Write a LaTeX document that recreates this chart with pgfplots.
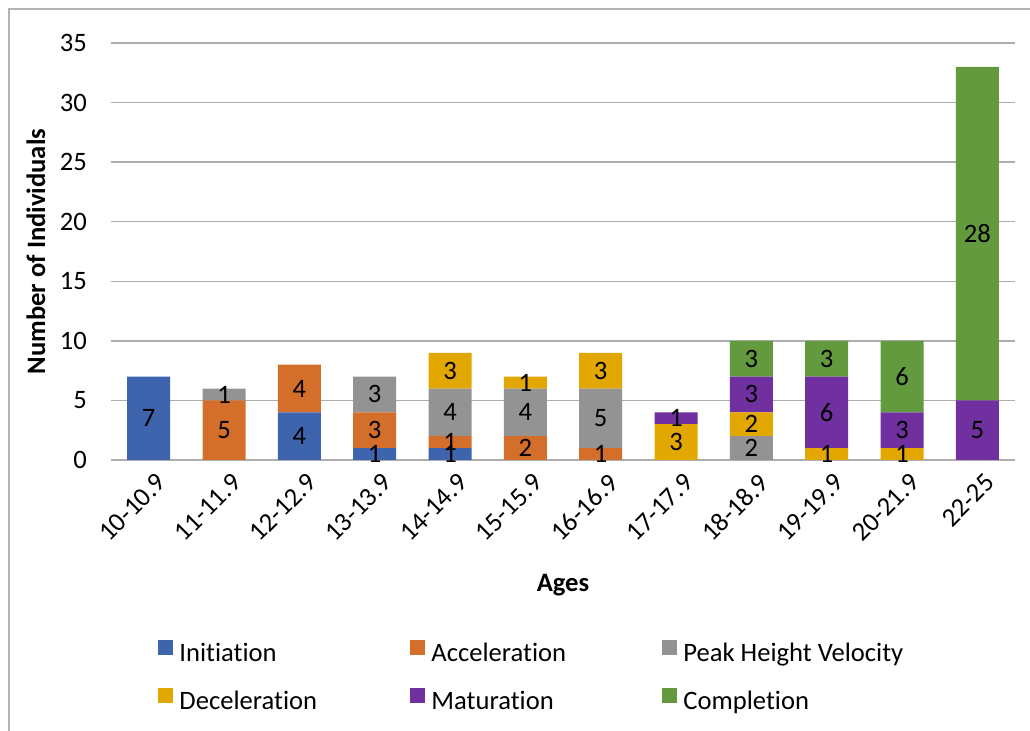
\documentclass[border=0pt]{standalone}
\usepackage{fontspec}
\setmainfont{Carlito}[Ligatures={TeX,NoCommon}]
\usepackage{pgfplots}
\pgfplotsset{compat=1.18}
\usepackage{pgfplotstable}

\definecolor{cInit}{HTML}{3E64AD}
\definecolor{cAcc}{HTML}{D46E2B}
\definecolor{cPHV}{HTML}{939393}
\definecolor{cDec}{HTML}{E2A700}
\definecolor{cMat}{HTML}{7030A0}
\definecolor{cComp}{HTML}{629A3D}
\definecolor{gridgray}{HTML}{ADADAD}
\definecolor{framegray}{HTML}{B3B3B3}

\newcommand\cf{\fontsize{13.3}{16}\selectfont}

% one row per age group, one column per stage
\pgfplotstableread{
x  init acc phv dec mat comp
0  7    0   0   0   0   0
1  0    5   1   0   0   0
2  4    4   0   0   0   0
3  1    3   3   0   0   0
4  1    1   4   3   0   0
5  0    2   4   1   0   0
6  0    1   5   3   0   0
7  0    0   0   3   1   0
8  0    0   2   2   3   3
9  0    0   0   1   6   3
10 0    0   0   1   3   6
11 0    0   0   0   5   28
}\stages

\begin{document}
\begin{tikzpicture}
\useasboundingbox (0pt,0pt) rectangle (515pt,365.5pt);
\draw[framegray, line width=0.75pt] (4.5pt,0pt) -- (4.5pt,361pt) -- (515pt,361pt);
\begin{axis}[
    at={(55.5pt,135.5pt)}, anchor=south west,
    scale only axis, width=452pt, height=208.5pt,
    ybar stacked, bar width=21.5pt,
    xmin=-0.5, xmax=11.5, ymin=0, ymax=35,
    xtick={0,...,11},
    xticklabels={10-10.9,11-11.9,12-12.9,13-13.9,14-14.9,15-15.9,16-16.9,17-17.9,18-18.9,19-19.9,20-21.9,22-25},
    ytick={0,5,...,35},
    axis x line*=bottom, axis y line*=left,
    x axis line style={gridgray, line width=0.75pt, -},
    y axis line style={draw=none},
    major tick length=0pt, tick style={draw=none},
    ymajorgrids, grid style={gridgray, line width=0.75pt},
    /pgf/number format/assume math mode=true,
    ticklabel style={font=\cf},
    yticklabel style={xshift=-8.5pt},
    xticklabel style={rotate=45, anchor=east, xshift=1.5pt, yshift=-11pt},
    xlabel={\textbf{Ages}},
    ylabel={\textbf{Number of Individuals}},
    label style={font=\cf},
    xlabel style={at={(axis description cs:0.5,-0.300)}, anchor=center},
    ylabel style={at={(axis description cs:-0.083,0.5)}, anchor=center, rotate=0},
    point meta=explicit,
    nodes near coords={\pgfmathfloatifflags{\pgfplotspointmeta}{0}{}{\pgfmathprintnumber{\pgfplotspointmeta}}},
    every node near coord/.append style={anchor=center, font=\cf, text=black},
    legend columns=3,
    legend image code/.code={\fill[#1] (0pt,0pt) rectangle (7.5pt,7.5pt);},
    legend style={at={(axis description cs:0.052,-0.430)}, anchor=north west,
        draw=none, fill=none, inner sep=0pt, font=\cf,
        nodes={inner xsep=0pt, inner ysep=0pt, text height=10pt, text depth=3pt},
        /tikz/every odd column/.append style={column sep=3pt},
        /tikz/every even column/.append style={column sep=0pt},
        row sep=10pt},
]
\addplot[fill=cInit, draw=none] table[x=x, y=init, meta=init] {\stages};
\addlegendentry{\makebox[115.5pt][l]{Initiation}}
\addplot[fill=cAcc, draw=none] table[x=x, y=acc, meta=acc] {\stages};
\addlegendentry{\makebox[115.5pt][l]{Acceleration}}
\addplot[fill=cPHV, draw=none] table[x=x, y=phv, meta=phv] {\stages};
\addlegendentry{\makebox[115.5pt][l]{Peak Height Velocity}}
\addplot[fill=cDec, draw=none] table[x=x, y=dec, meta=dec] {\stages};
\addlegendentry{\makebox[115.5pt][l]{Deceleration}}
\addplot[fill=cMat, draw=none] table[x=x, y=mat, meta=mat] {\stages};
\addlegendentry{\makebox[115.5pt][l]{Maturation}}
\addplot[fill=cComp, draw=none] table[x=x, y=comp, meta=comp] {\stages};
\addlegendentry{\makebox[115.5pt][l]{Completion}}
\end{axis}
\end{tikzpicture}
\end{document}
